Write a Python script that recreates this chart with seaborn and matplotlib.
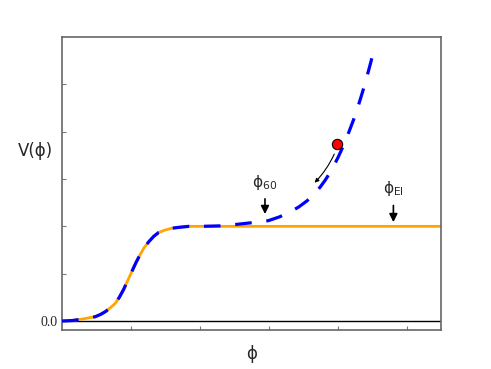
import numpy as np
import pandas as pd
import seaborn as sns
import matplotlib.pyplot as plt

# potential V(phi)
phi_rise = [0.0, 0.15, 0.29, 0.40, 0.48, 0.56, 0.63, 0.70, 0.77, 0.83, 0.89, 0.95, 1.01,
            1.07, 1.13, 1.19, 1.26, 1.33, 1.40, 1.49, 1.59, 1.70, 1.84, 2.03]
v_rise = [0.0, 0.01, 0.04, 0.07, 0.09, 0.14, 0.20, 0.28, 0.37, 0.50, 0.66, 0.85, 1.04,
          1.23, 1.40, 1.55, 1.68, 1.79, 1.87, 1.92, 1.96, 1.98, 2.0, 2.0]

# EI: flat plateau after the rise
phi_ei = phi_rise + [5.49]
v_ei = v_rise + [2.0]

# 60: steepening wall after the plateau
phi_60 = phi_rise + [2.29, 2.52, 2.77, 2.99, 3.15, 3.30, 3.43, 3.55, 3.65, 3.74, 3.81, 3.88,
                     3.94, 4.00, 4.05, 4.10, 4.16, 4.22, 4.27, 4.32, 4.37, 4.42, 4.47, 4.52]
v_60 = v_rise + [2.01, 2.04, 2.08, 2.12, 2.20, 2.30, 2.41, 2.54, 2.68, 2.83, 2.97, 3.13,
                 3.29, 3.46, 3.62, 3.79, 4.01, 4.24, 4.45, 4.68, 4.92, 5.18, 5.45, 5.74]

dot_phi, dot_v = [3.99], [3.74]

sns.set_style("white")
fig = plt.figure(figsize=(4.91, 3.69), dpi=100)
ax = fig.add_axes([0.1263, 0.1057, 0.7719, 0.794])

df_ei = pd.DataFrame({"phi": phi_ei, "V": v_ei})
df_60 = pd.DataFrame({"phi": phi_60, "V": v_60})

ax.axhline(0, color="black", lw=1.0, zorder=1)
sns.lineplot(data=df_ei, x="phi", y="V", ax=ax, color="orange", lw=2.0, zorder=2, sort=False)
sns.lineplot(data=df_60, x="phi", y="V", ax=ax, color="blue", lw=2.3, zorder=3, sort=False,
             linestyle=(0, (5.2, 4.6)), dash_capstyle="butt")
ax.scatter(dot_phi, dot_v, s=55, color="red", edgecolor="black", lw=0.8, zorder=5)

# arrows and labels
ax.annotate("", xy=(3.63, 2.88), xytext=(3.96, 3.58),
            arrowprops=dict(arrowstyle="-|>", color="black", lw=0.8, mutation_scale=6,
                            connectionstyle="arc3,rad=-0.1"))
ax.annotate("", xy=(2.94, 2.2), xytext=(2.94, 2.64),
            arrowprops=dict(arrowstyle="-|>", color="black", lw=1.2, mutation_scale=12))
ax.text(2.94, 2.72, "ϕ$_{60}$", ha="center", va="bottom", fontsize=11)
ax.annotate("", xy=(4.8, 2.03), xytext=(4.8, 2.5),
            arrowprops=dict(arrowstyle="-|>", color="black", lw=1.2, mutation_scale=12))
ax.text(4.8, 2.6, "ϕ$_{\\rm EI}$", ha="center", va="bottom", fontsize=11)

ax.set_xlim(0, 5.49)
ax.set_ylim(-0.19, 6.0)
ax.set_xticks([1, 2, 3, 4, 5])
ax.set_xticklabels([])
ax.set_yticks([0, 1, 2, 3, 4, 5])
ax.set_yticklabels(["0.0", "", "", "", "", ""], family="Liberation Serif", fontsize=10)
ax.tick_params(direction="in", length=3, color="#777777", left=True, bottom=True, pad=3)
for s in ax.spines.values():
    s.set_color("#666666")
    s.set_linewidth(1.2)

ax.set_xlabel("ϕ", fontsize=12, labelpad=8)
ax.set_ylabel("V(ϕ)", fontsize=12, rotation=0, labelpad=18)
ax.yaxis.set_label_coords(-0.07, 0.58)

fig.savefig("out.png", dpi=100)
